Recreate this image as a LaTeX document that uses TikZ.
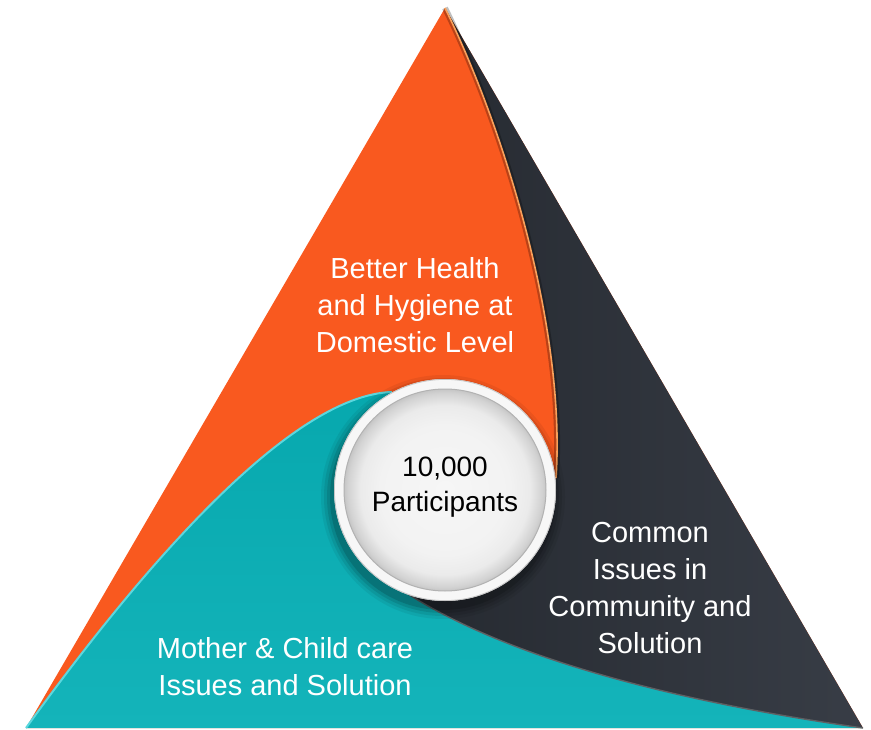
\documentclass[tikz,border=0pt]{standalone}
\usepackage{fontspec}
\setmainfont{Liberation Sans}
\definecolor{orangec}{RGB}{249,89,31}
\definecolor{orangeglow}{RGB}{250,160,90}
\definecolor{darkc}{RGB}{44,49,57}
\definecolor{darkl}{RGB}{56,61,70}
\definecolor{tealc}{RGB}{7,168,174}
\definecolor{teall}{RGB}{20,180,186}
\definecolor{tealglow}{RGB}{90,215,222}
\pgfdeclareradialshading{discshade}{\pgfpoint{0cm}{0cm}}{%
  color(0bp)=(white!93!gray);
  color(16bp)=(white!90!gray);
  color(21bp)=(white!84!gray);
  color(24bp)=(white!65!gray);
  color(25bp)=(white!55!gray);
  color(50bp)=(white!55!gray)}
\tikzset{
  region/.style={text=white, align=center, font=\fontsize{29}{37}\selectfont},
  centertext/.style={text=black, align=center, font=\fontsize{28}{35}\selectfont}
}
\begin{document}
\begin{tikzpicture}[x=1pt,y=-1pt]
\useasboundingbox (0,0) rectangle (871,730);
\coordinate (A) at (445,8);
\coordinate (BL) at (26,728);
\coordinate (BR) at (863,728);
\coordinate (C) at (445,490);
% orange base
\fill[orangec] (A) -- (BL) -- (BR) -- cycle;
% dark region
\shade[left color=darkc!85!black, right color=darkl]
  (A) -- (BR) .. controls (700,705) and (520,665) .. (408,594)
  -- (520,540) -- (556,478) .. controls (566,330) and (505,130) .. (A) -- cycle;
% shadow along orange edge inside dark
\draw[black, opacity=0.25, line width=6] (556,478) .. controls (566,330) and (505,130) .. (A);
\draw[orangeglow, line width=1.6] (556,478) .. controls (566,330) and (505,130) .. (A);
% teal region
\shade[top color=tealc, bottom color=teall]
  (BL) -- (BR) .. controls (700,705) and (520,665) .. (408,594)
  -- (340,500) -- (392,392) .. controls (290,395) and (140,570) .. (BL) -- cycle;
\draw[gray!60!darkc, line width=1.4] (BR) .. controls (700,705) and (520,665) .. (408,594);
\draw[tealglow, line width=2] (392,392) .. controls (290,395) and (140,570) .. (BL);
% circle shadow
\foreach \r/\o in {122/0.06,119/0.08,116/0.1,113/0.14}
  \fill[black, opacity=\o] (443,497) circle (\r);
% circle
\fill[white!94!gray] (C) circle (111);
\draw[gray!45, line width=0.8] (C) circle (110.6);
\shade[shading=discshade] (C) circle (101);
\draw[gray!60, line width=1] (C) circle (101);
% texts
\node[region] (t1) at (415,305) {Better Health\\and Hygiene at\\Domestic Level};
\node[region] (t2) at (650,588) {Common\\Issues in\\Community and\\Solution};
\node[region] (t3) at (285,667) {Mother \& Child care\\Issues and Solution};
\node[centertext] (tc) at (445,487) {10,000\\Participants};
\end{tikzpicture}
\end{document}
